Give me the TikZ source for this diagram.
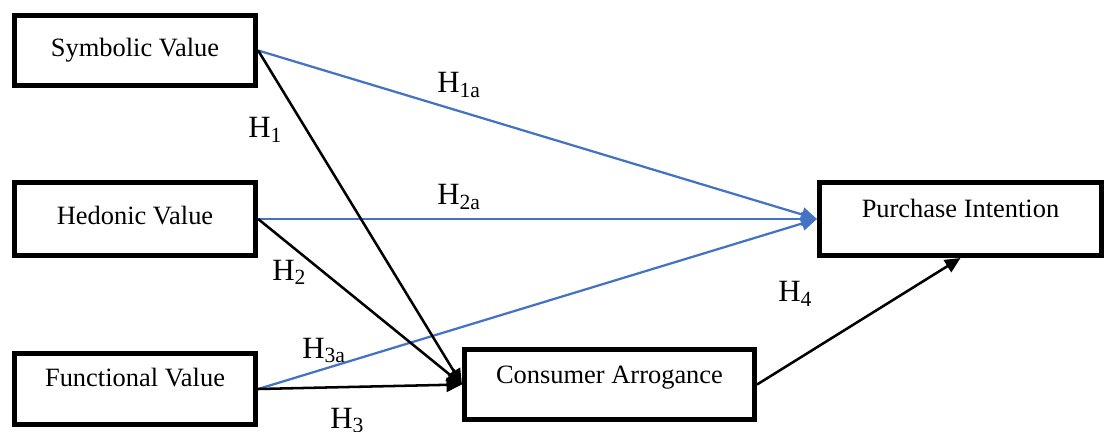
\documentclass[tikz,border=0pt]{standalone}
\usepackage{fontspec}
\setmainfont{Liberation Serif}
\usepackage{tikz}
\usetikzlibrary{positioning,arrows.meta}
\definecolor{hypblue}{HTML}{4472C4}
\tikzstyle{box} = [draw, line width=3.6pt, minimum width=6.03cm, minimum height=1.8cm, inner sep=0pt, text height=12pt, text depth=4pt, font=\fontsize{18.8}{20}\selectfont]
\tikzstyle{raisetext} = [text depth=4pt+2*#1]
\tikzstyle{arrow} = [line width=1.8pt,-{Triangle[length=11pt,width=10pt]}]
\tikzstyle{bluearrow} = [arrow, hypblue, line width=1.6pt]
\tikzstyle{hlabel} = [anchor=base west, inner sep=0pt, font=\fontsize{22}{24}\selectfont]

\begin{document}
\begin{tikzpicture}[x=0.025cm,y=-0.025cm]
\useasboundingbox (0,0) rectangle (1104,432);
% constructs
\node[box, minimum height=1.75cm] (sym) at (135,50.5) {Symbolic Value};
\node[box, minimum height=1.825cm] (hed) at (135,219) {Hedonic Value};
\node[box, minimum height=1.775cm, raisetext=6pt] (fun) at (135,389) {Functional Value};
\node[box, minimum width=7.25cm, minimum height=1.75cm, raisetext=5pt] (arr) at (609.5,384.5) {Consumer Arrogance};
\node[box, minimum width=7.05cm, minimum height=1.825cm, raisetext=5pt] (pur) at (960.5,219) {Purchase Intention};
% paths
\draw[bluearrow] (sym.east) -- (pur.west);
\draw[bluearrow] (hed.east) -- (pur.west);
\draw[bluearrow] (fun.east) -- (pur.west);
\draw[arrow] (sym.east) -- (arr.west);
\draw[arrow] (hed.east) -- (arr.west);
\draw[arrow] (fun.east) -- (arr.west);
\draw[arrow] (arr.east) -- (pur.south);
% hypotheses
\node[hlabel] (h1a) at (437,93) {H\textsubscript{1a}};
\node[hlabel] (h1) at (248,138) {H\textsubscript{1}};
\node[hlabel] (h2a) at (437,205) {H\textsubscript{2a}};
\node[hlabel] (h2) at (272,280) {H\textsubscript{2}};
\node[hlabel] (h3a) at (302,358) {H\textsubscript{3a}};
\node[hlabel] (h3) at (330,428) {H\textsubscript{3}};
\node[hlabel] (h4) at (778,302) {H\textsubscript{4}};
\end{tikzpicture}
\end{document}
